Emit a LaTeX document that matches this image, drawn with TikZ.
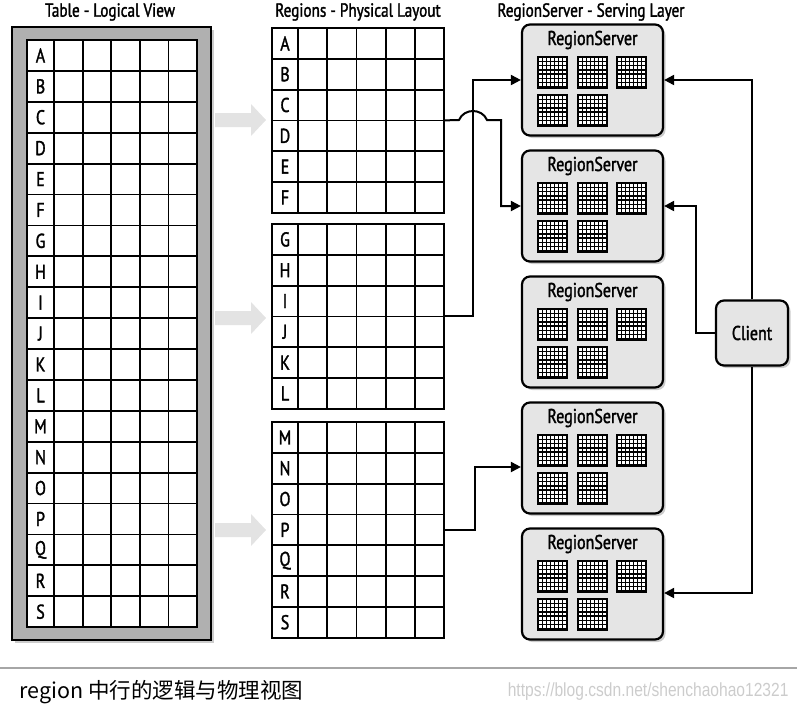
\documentclass[tikz,border=0pt]{standalone}
\usepackage{fontspec}
\newfontfamily\diagfont[FakeStretch=0.8, FakeBold=1.6]{PT Sans}
\newfontfamily\capfont{Noto Sans CJK SC}
\newfontfamily\urlfont[FakeStretch=0.82]{Liberation Sans}
\usetikzlibrary{arrows.meta,positioning,calc,shadows}

\begin{document}
\begin{tikzpicture}[x=1pt, y=-1pt, font=\diagfont, >={Triangle[length=10pt,width=10pt]},
  hdr/.style={font=\diagfont\fontsize{19}{19}\selectfont},
  lbl/.style={font=\diagfont\fontsize{20}{20}\selectfont},
  gl/.style={line width=1.8pt, line cap=rect},
  conn/.style={->, line width=2pt},
  shd/.style={drop shadow={shadow xshift=2.5pt, shadow yshift=-2.5pt, opacity=0.4}},
  blk/.style={inner sep=0pt, minimum width=172pt},
  srv/.style={draw, line width=2.2pt, rounded corners=8pt, fill=gray!20, shd,
    minimum width=141pt, minimum height=111pt, inner sep=0pt},
  cells/.pic={
    \fill (0,0) rectangle (31,33);
    \foreach \i in {0,...,6}{
      \foreach \j in {0,...,6}{
        \fill[white] ({2.4+\i*3.95},{2.4+\j*4.25}) rectangle ++(2.4,2.6);
      }
    }
  }]
\useasboundingbox (0,0) rectangle (797,713);

% headers
\node[hdr] at (110,12) {Table - Logical View};
\node[hdr] at (358,12) {Regions - Physical Layout};
\node[hdr] at (591,12) {RegionServer - Serving Layer};

% logical table
\node[draw, line width=1.6pt, fill=gray!62, shd, minimum width=199pt, minimum height=613pt, inner sep=0pt] (tbl) at (111.5,333.5) {};
\fill[white] (27,40) rectangle (197,627);
\foreach \r [count=\i from 0] in {A,...,S}{
  \node[lbl] at (40.5,{55.45+\i*30.9}) {\r};
}
\foreach \i in {0,...,19}
  \draw[gl] (27,{40+\i*30.9}) -- (197,{40+\i*30.9});
\foreach \x in {27,54,82.6,111.2,139.8,168.4,197}
  \draw[gl] (\x,40) -- (\x,627);

% faint arrows table -> regions
\foreach \y in {120,318,530}
  \fill[gray!22] (215,\y-7) -- (251,\y-7) -- (251,\y-16) -- (266,\y)
    -- (251,\y+16) -- (251,\y+7) -- (215,\y+7) -- cycle;

% regions
\foreach \ytop/\rows/\n/\nm in {28/{A,B,C,D,E,F}/6/reg1, 224/{G,H,I,J,K,L}/6/reg2, 422/{M,N,O,P,Q,R,S}/7/reg3}{
  \node[blk, minimum height=\n*30.8pt] (\nm) at (358,{\ytop+\n*15.4}) {};
  \foreach \r [count=\i from 0] in \rows
    \node[lbl] at (285,{\ytop+15.4+\i*30.8}) {\r};
  \foreach \i in {0,...,\n}
    \draw[gl] (272,{\ytop+\i*30.8}) -- (444,{\ytop+\i*30.8});
  \foreach \x in {272,298,327.2,356.4,385.6,414.8,444}
    \draw[gl] (\x,\ytop) -- (\x,{\ytop+\n*30.8});
}

% region servers
\foreach \k/\cy in {1/80,2/206,3/332,4/458,5/584}{
  \node[srv] (rs\k) at (592.5,\cy) {};
  \node[lbl] at (592.5,{\cy-40}) {RegionServer};
  \foreach \dx/\dy in {-55.5/-24.5,-15.5/-24.5,23.5/-24.5,-55.5/13.5,-15.5/13.5}
    \pic at ({592.5+\dx},{\cy+\dy}) {cells};
}

% client
\node[srv, lbl, minimum width=72pt, minimum height=65pt] (client) at (752,333) {Client};

% regions -> servers
\draw[conn] (reg1.east) -- (459,120) .. controls (464,108) and (482,108) .. (487,120)
  -- (501,120) |- (rs2.west);
\draw[conn] (reg2.east) -- ++(29,0) |- (rs1.west);
\draw[conn] (reg3.east) -- ++(31,0) |- ($(rs4.west)+(0,9)$);

% client -> servers
\draw[conn] (client.north) |- (rs1.east);
\draw[conn] (client.west) -- ++(-19,0) |- (rs2.east);
\draw[conn] (client.south) |- ($(rs5.east)+(0,9)$);

% caption
\draw[gray!70, line width=1.5pt] (0,668) -- (797,668);
\node[anchor=west, font=\capfont\fontsize{21.5}{21.5}\selectfont] (cap) at (16,692) {region 中行的逻辑与物理视图};
\node[anchor=east, text=gray!40, font=\urlfont\fontsize{19}{19}\selectfont] (wm) at (792,692) {https://blog.csdn.net/shenchaohao12321};
\end{tikzpicture}
\end{document}
